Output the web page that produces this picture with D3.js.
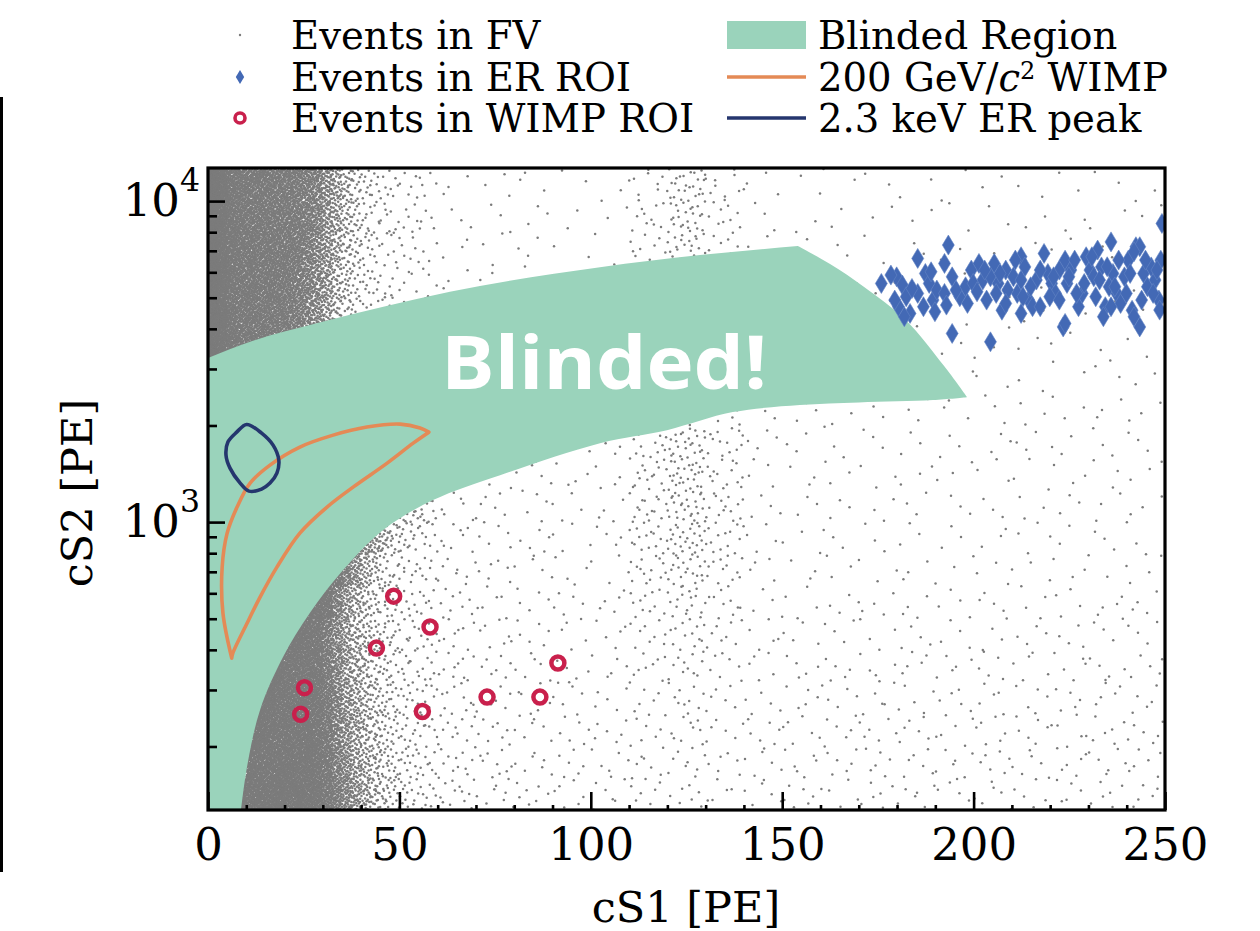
<!DOCTYPE html>
<html>
<head>
<meta charset="utf-8">
<script src="https://cdn.jsdelivr.net/npm/d3@7"></script>
<style>
  body { margin: 0; background: #fff; }
  text { font-family: "DejaVu Serif", serif; }
</style>
</head>
<body>
<div id="chart"></div>
<script>
// ---- data ----

// axes
const xTicks = [0, 50, 100, 150, 200, 250];
const xMinor = [10, 20, 30, 40, 60, 70, 80, 90, 110, 120, 130, 140, 160, 170, 180, 190, 210, 220, 230, 240];
const yMajor = [1000, 10000];
const yMinor = [200, 300, 400, 500, 600, 700, 800, 900, 2000, 3000, 4000, 5000, 6000, 7000, 8000, 9000];

// blinded region outline (cS1, cS2): top edge, right edge, lower edge
const blindTopS1 = [0, 11, 28.4, 45.8, 63.2, 102.4, 128.5, 154.1];
const blindTopS2 = [3243, 3645, 4160, 4685, 5218, 6223, 6789, 7244];
const blindRightS1 = [154.1, 162.5, 171.4, 182.3, 192.3, 198.3];
const blindRightS2 = [7244, 6364, 5398, 4254, 3062, 2449];
const blindLowS1 = [198.3, 189.4, 170, 154.6, 137.1, 119.9, 102.4, 76.3, 58.8, 45.7, 35.3, 26.6, 19.6, 13.6, 10.2, 8.6];
const blindLowS2 = [2449, 2399, 2360, 2315, 2201, 1934, 1762, 1400, 1171, 944, 709, 521, 380, 260, 173, 126];

// 200 GeV/c^2 WIMP contour: upper arc (bottom tip -> right tip), lower arc (right tip -> bottom tip)
const wimpUpS1 = [6.2, 3.9, 3.7, 5.0, 7.6, 11.0, 16.2, 24.0, 32.7, 41.5, 50.2, 55.4, 57.7];
const wimpUpS2 = [377, 521, 724, 924, 1114, 1323, 1505, 1713, 1866, 1977, 2019, 1963, 1906];
const wimpLowS1 = [57.7, 53.6, 46.8, 37.9, 31.1, 24.0, 18.0, 13.6, 10.2, 6.5, 6.2];
const wimpLowS2 = [1906, 1762, 1527, 1285, 1114, 924, 724, 584, 484, 391, 377];

// 2.3 keV ER peak contour
const peakS1 = [10.1, 14.0, 17.0, 18.5, 18.0, 16.2, 14.0, 10.7, 8.4, 5.75, 4.7, 5.2, 7.5];
const peakS2 = [2014, 1893, 1737, 1560, 1421, 1323, 1267, 1249, 1323, 1473, 1618, 1775, 1906];

// events in WIMP ROI
const roiS1 = [48.5, 58.0, 44.0, 91.4, 25.2, 72.9, 86.7, 24.2, 56.0];
const roiS2 = [588, 471, 405, 364, 305, 285, 285, 252, 257];

// events in ER ROI
const erS1 = [193.4, 185.4, 192.4, 175.9, 179.9, 181.4, 182.4, 180.4, 183.4, 185.4, 187.4, 188.4,
  189.4, 190.4, 192.4, 194.4, 196.4, 197.9, 199.4, 201.4, 202.4, 203.4, 204.4, 205.4, 206.4,
  207.4, 208.4, 210.4, 211.4, 212.4, 213.4, 214.4, 215.4, 216.4, 218.4, 219.4, 220.4, 221.4,
  222.4, 223.4, 223.9, 224.4, 225.4, 227.4, 228.4, 229.4, 230.4, 231.4, 232.4, 233.4, 234.4,
  235.4, 235.9, 236.4, 237.4, 238.4, 239.4, 240.4, 241.4, 242.4, 243.4, 243.4, 244.4, 245.4,
  246.4, 247.4, 248.4, 248.9, 194.4, 204.4,
  178.4, 179.4, 181.9, 183.9, 186.9, 188.9, 189.9, 192.9, 195.4, 198.4, 199.9, 200.9, 202.9,
  205.9, 206.9, 208.9, 210.9, 212.4, 212.9, 214.9, 217.4, 219.9, 220.9, 222.4, 224.9, 226.4,
  226.9, 228.9, 230.9, 231.9, 232.9, 233.9, 234.9, 236.9, 237.9, 239.9, 240.9, 241.9, 243.9,
  244.9, 246.9, 247.9, 248.6, 249.2, 223.9, 235.9, 241.9, 212.4, 208.4, 217.4];
const erS2 = [7295, 6629, 6394, 5540, 5808, 5474, 5035, 4688, 4467, 5157, 5951, 5540,
  4916, 5281, 5157, 5808, 5035, 5408, 6095, 6394, 5676, 4916, 5808, 6394, 5540,
  4571, 6095, 5808, 5157, 6708, 6237, 4916, 4688, 5676, 6870, 5951, 5540, 5157,
  6095, 4055, 6547, 5540, 6095, 4688, 5157, 6708, 6095, 5808, 7037, 6237, 4688,
  5408, 7464, 5951, 5157, 4797, 5808, 6547, 4571, 7207, 7207, 4055, 5951, 5408,
  6237, 5676, 4916, 6547, 3870, 3644,
  5882, 4916, 4362, 5345, 4687, 6023, 4522, 4742, 5281, 4800, 5540, 5218, 6095,
  5157, 5951, 5281, 6550, 5674, 5035, 5408, 6095, 5035, 5810, 4916, 5810, 6550,
  5157, 5540, 6708, 5035, 5674, 4362, 6243, 5408, 6550, 5157, 5951, 6953, 4916,
  6550, 5157, 6095, 4575, 8518, 4159, 4687, 4362, 4467, 4800, 4687];

// events in FV: counts per cell, rows = log10(cS2) bins of 0.1 from 2.1 (bottom row first)
const rowLog0 = 2.1, rowLogStep = 0.1;
// cS1 0..60 in 2.5 PE columns
const fvFine = [
  [0,0,0,190,165,165,165,165,165,165,160,155,120,90,65,48,33,22,15,11,8,6,5,4],
  [0,0,0,0,190,165,165,165,165,165,160,155,118,85,60,42,29,20,14,10,7,6,5,4],
  [0,0,0,0,190,190,160,160,160,160,155,150,112,80,55,38,26,18,12,9,7,5,5,4],
  [0,0,0,0,0,190,175,150,150,150,150,145,108,75,50,34,23,16,11,8,6,5,4,4],
  [0,0,0,0,0,0,190,175,145,145,145,140,100,68,44,30,21,14,10,7,6,5,4,4],
  [0,0,0,0,0,0,0,0,175,165,150,130,95,62,42,28,19,12,9,7,5,4,4,3],
  [0,0,0,0,0,0,0,0,0,0,165,160,140,80,46,30,19,12,8,6,5,4,4,3],
  [0,0,0,0,0,0,0,0,0,0,0,0,150,120,80,50,30,17,10,7,5,4,4,3],
  [0,0,0,0,0,0,0,0,0,0,0,0,0,0,0,70,52,34,22,13,9,7,5,4],
  [0,0,0,0,0,0,0,0,0,0,0,0,0,0,0,0,0,0,0,0,15,10,8,6],
  [0,0,0,0,0,0,0,0,0,0,0,0,0,0,0,0,0,0,0,0,0,0,0,0],
  [0,0,0,0,0,0,0,0,0,0,0,0,0,0,0,0,0,0,0,0,0,0,0,0],
  [0,0,0,0,0,0,0,0,0,0,0,0,0,0,0,0,0,0,0,0,0,0,0,0],
  [0,0,0,0,0,0,0,0,0,0,0,0,0,0,0,0,0,0,0,0,0,0,0,0],
  [240,190,140,125,125,120,120,112,105,92,75,55,36,22,13,8,5,4,3,3,2,2,2,2],
  [240,190,140,125,125,120,120,112,105,92,80,60,40,25,15,9,6,5,4,3,3,2,2,2],
  [240,190,140,125,125,120,120,112,108,98,85,66,45,28,17,10,7,5,4,3,3,2,2,2],
  [240,190,140,125,125,120,120,112,110,104,90,72,50,31,19,12,8,6,4,3,3,3,2,2],
  [240,190,140,125,125,120,120,112,110,104,95,78,56,35,21,13,8,6,5,4,3,3,3,2],
  [240,190,140,125,125,120,120,112,110,104,95,82,62,38,23,14,9,6,5,4,3,3,3,2]
];
// cS1 60..250 in 10 PE columns
const fvCoarse = [
  [12,9,7,6,6,7,8,6,6,6,6,6,6,6,6,6,6,6,6],
  [12,9,7,6,6,7,9,6,6,6,6,6,6,6,6,6,6,6,6],
  [11,8,7,6,6,7,9,6,6,6,6,6,6,6,6,6,6,6,6],
  [10,8,6,6,5,7,10,6,5,5,5,5,5,5,5,5,5,5,5],
  [10,7,6,5,5,8,11,7,5,5,5,5,5,5,5,5,5,5,5],
  [9,7,6,5,5,9,13,8,5,4,4,4,4,4,4,4,4,4,4],
  [9,6,5,5,5,11,17,10,4,4,4,4,4,4,4,4,4,4,4],
  [8,6,5,4,4,14,22,12,4,3,3,3,3,3,3,3,3,3,3],
  [8,6,5,4,4,16,27,14,4,3,3,3,3,3,3,3,3,3,3],
  [6,6,5,4,4,16,28,14,4,3,3,3,3,3,3,3,3,3,3],
  [0,5,5,4,4,16,28,14,4,3,3,3,3,3,3,3,3,3,3],
  [0,0,0,4,4,15,26,13,4,3,3,3,3,3,3,3,3,3,3],
  [0,0,0,0,0,0,18,9,4,3,3,3,3,3,3,3,3,3,3],
  [0,0,0,0,0,0,0,0,0,0,0,0,0,2,2,2,2,2,2],
  [0,0,0,0,0,0,0,0,0,0,0,0,2,2,2,2,2,2,2],
  [0,0,0,0,0,0,0,0,0,0,0,2,2,2,2,2,2,2,2],
  [3,3,3,3,0,0,0,0,0,0,2,2,2,2,2,2,2,2,2],
  [3,3,3,2,2,10,25,10,3,2,2,2,2,2,2,2,2,2,2],
  [3,3,3,2,2,10,25,10,3,2,2,2,2,2,2,2,2,2,2],
  [3,3,3,2,2,10,25,10,3,2,2,2,2,2,2,2,2,2,2]
];

// ---- drawing ----
const width = 1260, height = 931;
const margin = { left: 208, right: 95, top: 168, bottom: 121 };

const svg = d3.select("#chart").append("svg")
  .attr("width", width)
  .attr("height", height);

const x = d3.scaleLinear().domain([0, 250]).range([margin.left, width - margin.right]);
const y = d3.scaleLog().domain([126.8, 12680]).range([height - margin.bottom, margin.top]);

svg.append("clipPath").attr("id", "clip")
  .append("rect")
  .attr("x", x(0)).attr("y", y(12680))
  .attr("width", x(250) - x(0)).attr("height", y(126.8) - y(12680));

// spread each cell's count over the cell with a halton sequence (no randomness);
// every cell starts at its own place in the sequence so neighbours don't line up
function halton(i, b) {
  let f = 1, r = 0;
  while (i > 0) { f /= b; r += f * (i % b); i = Math.floor(i / b); }
  return r;
}
let fvPoints = [];
let cellNo = 0;
function spreadCells(grid, s1Start, s1Step) {
  grid.forEach((row, r) => {
    row.forEach((n, c) => {
      cellNo++;
      let start = 1 + (Math.imul(cellNo, 2654435761) >>> 0) % 1000003;
      for (let k = 0; k < n; k++) {
        let u = halton(start + k, 2), v = halton(start + k, 3);
        fvPoints.push([s1Start + (c + u) * s1Step, Math.pow(10, rowLog0 + (r + v) * rowLogStep)]);
      }
    });
  });
}
spreadCells(fvFine, 0, 2.5);
spreadCells(fvCoarse, 60, 10);

let plot = svg.append("g").attr("clip-path", "url(#clip)");

plot.append("g")
  .selectAll("circle")
  .data(fvPoints)
  .join("circle")
    .attr("cx", d => x(d[0]))
    .attr("cy", d => y(d[1]))
    .attr("r", 1.25)
    .attr("fill", "#7b7b7b");

let zip = (a, b) => a.map((v, i) => [v, b[i]]);
let seg = (pts, curve) => d3.line().x(d => x(d[0])).y(d => y(d[1])).curve(curve)(pts);

// blinded region
let blindPath = seg(zip(blindTopS1, blindTopS2), d3.curveMonotoneX)
  + seg(zip(blindRightS1, blindRightS2), d3.curveCatmullRom).replace(/^M/, "L")
  + seg(zip(blindLowS1, blindLowS2), d3.curveCatmullRom).replace(/^M/, "L")
  + "L" + x(0) + "," + y(126) + "Z";
plot.append("path")
  .attr("d", blindPath)
  .attr("fill", "#9ad3bb");

plot.append("text")
  .attr("x", 604)
  .attr("y", 389)
  .attr("text-anchor", "middle")
  .attr("fill", "white")
  .attr("font-size", 74)
  .attr("font-weight", "bold")
  .style("font-family", "'Open Sans', sans-serif")
  .attr("textLength", 326)
  .attr("lengthAdjust", "spacingAndGlyphs")
  .text("Blinded!");

// contours
let wimpPath = seg(zip(wimpUpS1, wimpUpS2), d3.curveCatmullRom)
  + seg(zip(wimpLowS1, wimpLowS2), d3.curveCatmullRom).replace(/^M/, "L") + "Z";
plot.append("path")
  .attr("d", wimpPath)
  .attr("fill", "none")
  .attr("stroke", "#e48a56")
  .attr("stroke-width", 3.6)
  .attr("stroke-linejoin", "round");

plot.append("path")
  .attr("d", seg(zip(peakS1, peakS2), d3.curveCatmullRomClosed))
  .attr("fill", "none")
  .attr("stroke", "#25366e")
  .attr("stroke-width", 3.6)
  .attr("stroke-linejoin", "round");

// WIMP ROI events
plot.append("g")
  .selectAll("circle")
  .data(zip(roiS1, roiS2))
  .join("circle")
    .attr("cx", d => x(d[0]))
    .attr("cy", d => y(d[1]))
    .attr("r", 6.5)
    .attr("fill", "none")
    .attr("stroke", "#c9204c")
    .attr("stroke-width", 4.5);

// ER ROI events
const thinDiamond = "M0,-10L6,0L0,10L-6,0Z";
plot.append("g")
  .selectAll("path")
  .data(zip(erS1, erS2))
  .join("path")
    .attr("d", thinDiamond)
    .attr("transform", d => "translate(" + x(d[0]) + "," + y(d[1]) + ")")
    .attr("fill", "#4369b5")
    .attr("stroke", "#6384c4")
    .attr("stroke-width", 0.6);

// axes (ticks point inward)
let gx = svg.append("g")
  .attr("transform", "translate(0," + y(126.8) + ")")
  .call(d3.axisBottom(x).tickValues(xTicks).tickSize(-18).tickPadding(18).tickFormat(d3.format("d")));
let gxMinor = svg.append("g")
  .attr("transform", "translate(0," + y(126.8) + ")")
  .call(d3.axisBottom(x).tickValues(xMinor).tickSize(-5).tickFormat(""));

let gy = svg.append("g")
  .attr("transform", "translate(" + x(0) + ",0)")
  .call(d3.axisLeft(y).tickValues(yMajor).tickSize(-17).tickPadding(8).tickFormat(""));
let gyMinor = svg.append("g")
  .attr("transform", "translate(" + x(0) + ",0)")
  .call(d3.axisLeft(y).tickValues(yMinor).tickSize(-9).tickFormat(""));

[gx, gxMinor, gy, gyMinor].forEach(g => {
  g.select(".domain").remove();
  g.attr("font-family", "DejaVu Serif").attr("font-size", 45);
  g.selectAll(".tick line").attr("stroke", "black").attr("stroke-width", 2.6);
  g.selectAll(".tick text").attr("fill", "black");
});

gy.selectAll(".tick text").each(function(d) {
  let t = d3.select(this).text(null);
  t.append("tspan").text("10");
  t.append("tspan").attr("dy", "-0.8em").attr("font-size", "0.7em").text(Math.round(Math.log10(d)));
});

// frame
svg.append("rect")
  .attr("x", x(0)).attr("y", y(12680))
  .attr("width", x(250) - x(0)).attr("height", y(126.8) - y(12680))
  .attr("fill", "none")
  .attr("stroke", "black")
  .attr("stroke-width", 3.2);

// axis titles
svg.append("text")
  .attr("x", 686).attr("y", 922)
  .attr("text-anchor", "middle")
  .attr("font-size", 43)
  .text("cS1 [PE]");

svg.append("text")
  .attr("transform", "translate(92,493) rotate(-90)")
  .attr("text-anchor", "middle")
  .attr("font-size", 43)
  .text("cS2 [PE]");

// stray edge line at far left of the picture
svg.append("line")
  .attr("x1", 1.5).attr("x2", 1.5)
  .attr("y1", 97).attr("y2", 872)
  .attr("stroke", "black")
  .attr("stroke-width", 3);

// legend
let legend = svg.append("g").attr("font-size", 38.6);
const legendRows = [35, 77, 118];

legend.append("circle").attr("cx", 240).attr("cy", legendRows[0]).attr("r", 1.2).attr("fill", "#7b7b7b");
legend.append("path").attr("d", "M0,-7L4.2,0L0,7L-4.2,0Z")
  .attr("transform", "translate(240," + legendRows[1] + ")").attr("fill", "#4369b5");
legend.append("circle").attr("cx", 240).attr("cy", legendRows[2]).attr("r", 5)
  .attr("fill", "none").attr("stroke", "#c9204c").attr("stroke-width", 3.6);

legend.append("rect").attr("x", 727).attr("y", legendRows[0] - 14).attr("width", 79).attr("height", 28).attr("fill", "#9ad3bb");
legend.append("line").attr("x1", 727).attr("x2", 806).attr("y1", legendRows[1]).attr("y2", legendRows[1])
  .attr("stroke", "#e48a56").attr("stroke-width", 3.6);
legend.append("line").attr("x1", 727).attr("x2", 806).attr("y1", legendRows[2]).attr("y2", legendRows[2])
  .attr("stroke", "#25366e").attr("stroke-width", 3.6);

const leftLabels = ["Events in FV", "Events in ER ROI", "Events in WIMP ROI"];
leftLabels.forEach((s, i) => {
  legend.append("text").attr("x", 291).attr("y", legendRows[i]).attr("dy", "0.36em").text(s);
});
legend.append("text").attr("x", 818).attr("y", legendRows[0]).attr("dy", "0.36em").text("Blinded Region");
let wimpLabel = legend.append("text").attr("x", 818).attr("y", legendRows[1]).attr("dy", "0.36em");
wimpLabel.append("tspan").text("200 GeV/");
wimpLabel.append("tspan").attr("font-style", "italic").text("c");
wimpLabel.append("tspan").attr("dy", -12).attr("font-size", 24).text("2");
wimpLabel.append("tspan").attr("dy", 12).text(" WIMP");
legend.append("text").attr("x", 818).attr("y", legendRows[2]).attr("dy", "0.36em").text("2.3 keV ER peak");
</script>
</body>
</html>
